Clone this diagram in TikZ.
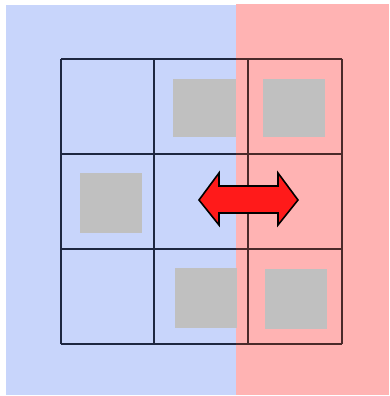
\documentclass[tikz,border=0pt]{standalone}
\definecolor{bgblue}{HTML}{C8D5FB}
\definecolor{bgred}{HTML}{FFB3B3}
\definecolor{gridline}{HTML}{1E2740}
\definecolor{gridlinered}{HTML}{4A2A2A}
\definecolor{boxgrey}{HTML}{C0C0C0}
\definecolor{arrowred}{HTML}{FF1A1A}
\tikzset{
  gridstyle/.style={draw=gridline, line width=1.4pt},
  greybox/.style={fill=boxgrey, draw=none},
  bigarrow/.style={fill=arrowred, draw=black, line width=1.6pt, line join=miter},
}
\begin{document}
\begin{tikzpicture}[x=1pt,y=-1pt]
\useasboundingbox (0,0) rectangle (389,396);
% backgrounds
\fill[bgblue] (6,5) rectangle (236,395);
\fill[bgred] (236,4) rectangle (389,395);
% grid
\foreach \v in {61,154,248,342} {
  \draw[gridstyle] (\v,59) -- (\v,344);
}
\foreach \h in {59,154,249,344} {
  \draw[gridstyle] (61,\h) -- (342,\h);
}
% the part of the grid over the red zone is darker red-brown
\begin{scope}
  \clip (236,50) rectangle (350,350);
  \foreach \v in {248,342} {
    \draw[gridstyle, draw=gridlinered] (\v,59) -- (\v,344);
  }
  \foreach \h in {59,154,249,344} {
    \draw[gridstyle, draw=gridlinered] (61,\h) -- (342,\h);
  }
\end{scope}
% grey squares
\fill[greybox] (173,79) rectangle (236,137);
\fill[greybox] (263,79) rectangle (325,137);
\fill[greybox] (80,173) rectangle (142,233);
\fill[greybox] (175,268) rectangle (237,328);
\fill[greybox] (265,269) rectangle (327,329);
% double arrow
\draw[bigarrow] (199,200) -- (219,173) -- (219,186) -- (278,186) -- (278,173)
  -- (298,200) -- (278,225) -- (278,213) -- (219,213) -- (219,225) -- cycle;
\end{tikzpicture}
\end{document}
